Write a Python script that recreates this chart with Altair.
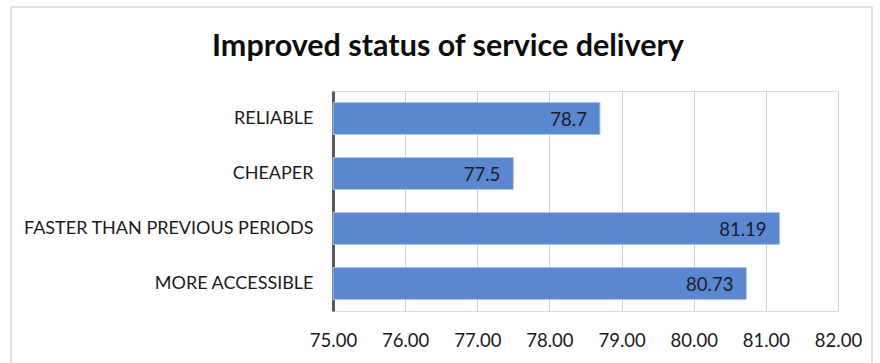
import altair as alt
import pandas as pd

title_text = "Improved status of service delivery"
categories = ["RELIABLE", "CHEAPER", "FASTER THAN PREVIOUS PERIODS", "MORE ACCESSIBLE"]
values = [78.7, 77.5, 81.19, 80.73]
value_labels = ["78.7", "77.5", "81.19", "80.73"]
x_ticks = [75, 76, 77, 78, 79, 80, 81, 82]

df = pd.DataFrame({"cat": categories, "val": values, "lab": value_labels})
tdf = pd.DataFrame({"t": [title_text]})

FONT = "Lato"
W, H = 505, 220
LEFT, TOP = 333, 91

xscale = alt.Scale(domain=[75, 82], nice=False, zero=False, clamp=True)
yscale = alt.Scale(domain=categories, paddingInner=0.42, paddingOuter=0.21)

frame = alt.Chart(tdf).mark_rect(
    fill="white", fillOpacity=0, stroke="#d9d9d9", strokeWidth=1.5
).encode(
    x=alt.value(11 - LEFT), x2=alt.value(872 - LEFT),
    y=alt.value(7 - TOP), y2=alt.value(400 - TOP)
)

title = alt.Chart(tdf).mark_text(
    font=FONT, fontSize=30.5, fontWeight="bold", color="#0d0d0d",
    align="center", baseline="alphabetic"
).encode(
    x=alt.value(448 - LEFT), y=alt.value(56 - TOP), text="t:N"
)

bars = alt.Chart(df).mark_bar(
    color="#5b87cf", stroke="#aac4e6", strokeWidth=1
).encode(
    x=alt.X("val:Q", scale=xscale,
            axis=alt.Axis(values=x_ticks, format=".2f", title=None,
                          grid=True, gridColor="#c9d6c9", gridWidth=1,
                          domain=False, ticks=False, labelFont=FONT,
                          labelFontSize=18.5, labelColor="#1a1a1a",
                          labelPadding=20, labelFlush=False,
                          labelOverlap=False)),
    x2=alt.datum(75),
    y=alt.Y("cat:N", scale=yscale, sort=categories,
            axis=alt.Axis(title=None, domain=True, domainColor="#595959",
                          domainWidth=3, ticks=False, labelFont=FONT,
                          labelFontSize=18, labelColor="#1a1a1a",
                          labelPadding=20, labelLimit=400)),
)

text = alt.Chart(df).mark_text(
    align="right", baseline="middle", dx=-13, dy=1.5, font=FONT, fontSize=18.5,
    color="#1a1a2e"
).encode(
    x=alt.X("val:Q", scale=xscale),
    y=alt.Y("cat:N", scale=yscale, sort=categories),
    text="lab:N",
)

chart = alt.layer(frame, bars, text, title).properties(
    width=W, height=H,
    autosize=alt.AutoSizeParams(type="none"),
    padding={"left": LEFT, "top": TOP, "right": 880 - LEFT - W, "bottom": 363 - TOP - H},
).configure_view(stroke=None).configure(background="white")

chart.save("out.html", embed_options={"renderer": "svg", "actions": False})
